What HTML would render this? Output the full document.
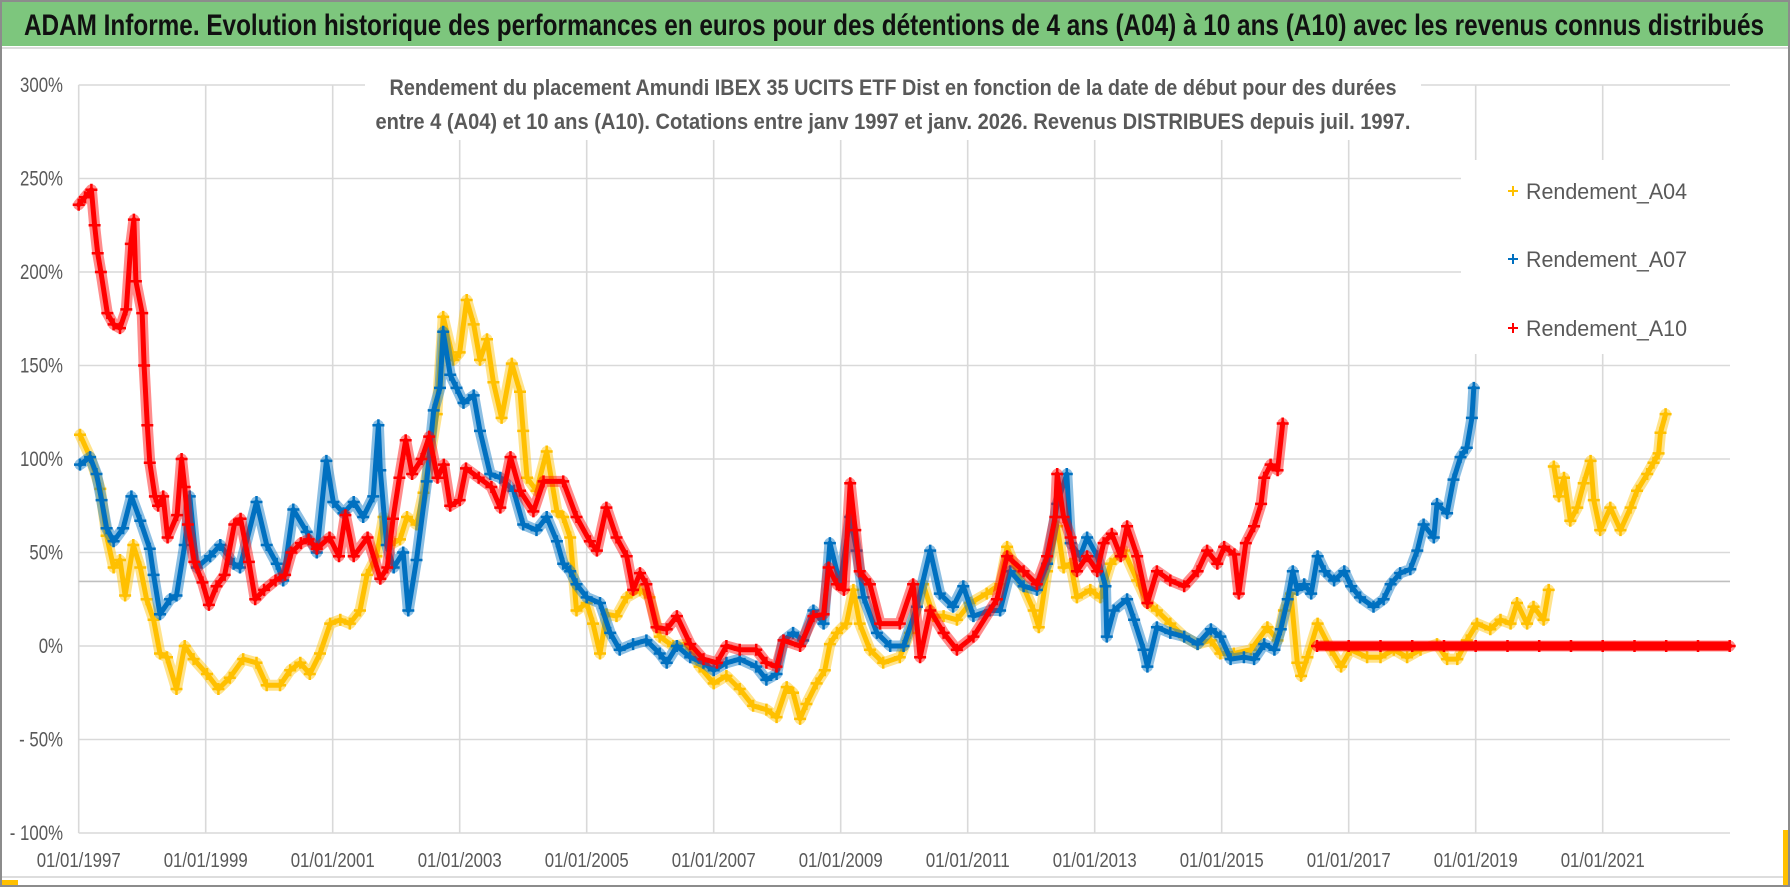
<!DOCTYPE html>
<html>
<head>
<meta charset="utf-8">
<style>
  html,body{margin:0;padding:0;background:#fff;}
  svg{display:block;}
  text{font-family:"Liberation Sans",sans-serif;}
</style>
</head>
<body>
<svg id="chart" width="1790" height="887" viewBox="0 0 1790 887" xmlns="http://www.w3.org/2000/svg">
  <rect x="0" y="0" width="1790" height="887" fill="#ffffff"/>
  <rect x="0" y="0" width="1790" height="46" fill="#7DC67D"/>
  <text x="24" y="35" font-size="30" font-weight="bold" fill="#111" textLength="1740" lengthAdjust="spacingAndGlyphs">ADAM Informe. Evolution historique des performances en euros pour des détentions de 4 ans (A04) à 10 ans (A10) avec les revenus connus distribués</text>
  <line x1="0" y1="48" x2="1790" y2="48" stroke="#dddddd" stroke-width="2"/>
  <g id="grid"></g>
  <g id="series"></g>
  <rect x="365" y="58" width="1056" height="82" fill="#ffffff"/>
  <text x="893" y="95" text-anchor="middle" font-size="22" font-weight="bold" fill="#595959" textLength="1007" lengthAdjust="spacingAndGlyphs">Rendement du placement Amundi IBEX 35 UCITS ETF Dist en fonction de la date de début pour des durées</text>
  <text x="893" y="129" text-anchor="middle" font-size="22" font-weight="bold" fill="#595959" textLength="1035" lengthAdjust="spacingAndGlyphs">entre 4 (A04) et 10 ans (A10).  Cotations entre janv 1997 et janv. 2026. Revenus DISTRIBUES depuis juil. 1997.</text>
  <g id="legend">
    <rect x="1461" y="160" width="320" height="194" fill="#ffffff"/>
  </g>
  <g id="axes"></g>
  <line x1="0" y1="877" x2="1790" y2="877" stroke="#dddddd" stroke-width="2"/>
  <rect x="1" y="1" width="1788" height="885" fill="none" stroke="#8c8c8c" stroke-width="2"/>
  <rect x="2" y="880" width="16" height="5" fill="#FFC000"/>
  <rect x="1783" y="830" width="5" height="55" fill="#FFC000"/>
</svg>
<script>
const yTicks = [300, 250, 200, 150, 100, 50, 0, -50, -100];
const yTickLabels = ["300%", "250%", "200%", "150%", "100%", "50%", "0%", "- 50%", "- 100%"];
const xTicks = [1997, 1999, 2001, 2003, 2005, 2007, 2009, 2011, 2013, 2015, 2017, 2019, 2021];
const xTickLabels = ["01/01/1997","01/01/1999","01/01/2001","01/01/2003","01/01/2005","01/01/2007","01/01/2009","01/01/2011","01/01/2013","01/01/2015","01/01/2017","01/01/2019","01/01/2021"];
const averageValue = 34.5;
const seriesNames = ["Rendement_A04", "Rendement_A07", "Rendement_A10"];

const a04Years = [1997.02,1997.18,1997.34,1997.44,1997.55,1997.65,1997.73,1997.86,1997.97,1998.07,1998.18,1998.28,1998.39,1998.54,1998.67,1998.81,1999.02,1999.2,1999.38,1999.59,1999.8,1999.96,2000.17,2000.33,2000.49,2000.64,2000.8,2000.96,2001.12,2001.27,2001.43,2001.54,2001.69,2001.8,2001.9,2002.06,2002.17,2002.32,2002.43,2002.53,2002.64,2002.74,2002.9,2003.0,2003.11,2003.22,2003.32,2003.43,2003.53,2003.66,2003.82,2003.95,2004.0,2004.06,2004.21,2004.37,2004.53,2004.63,2004.74,2004.84,2005.0,2005.1,2005.21,2005.31,2005.47,2005.63,2005.84,2005.99,2006.15,2006.36,2006.57,2006.78,2007.0,2007.2,2007.41,2007.62,2007.83,2007.99,2008.15,2008.25,2008.36,2008.46,2008.62,2008.75,2008.83,2008.94,2009.09,2009.2,2009.3,2009.46,2009.67,2009.93,2010.09,2010.3,2010.46,2010.62,2010.83,2011.04,2011.3,2011.51,2011.62,2011.77,2012.04,2012.12,2012.25,2012.41,2012.51,2012.62,2012.72,2012.93,2013.09,2013.25,2013.46,2013.67,2013.83,2013.98,2014.19,2014.41,2014.62,2014.83,2014.98,2015.19,2015.46,2015.72,2015.88,2015.98,2016.09,2016.19,2016.25,2016.35,2016.51,2016.72,2016.88,2017.03,2017.29,2017.5,2017.71,2017.92,2018.13,2018.39,2018.55,2018.71,2018.86,2019.02,2019.23,2019.39,2019.55,2019.65,2019.81,2019.91,2020.07,2020.15,2020.19,2020.23,2020.31,2020.39,2020.49,2020.6,2020.7,2020.81,2020.86,2020.96,2021.12,2021.28,2021.44,2021.54,2021.7,2021.8,2021.88,2021.91,2021.99];
const a04Values = [113,101,84,59,42,46,27,54,42,25,14,-4,-6,-23,0,-7,-15,-23,-17,-7,-9,-21,-21,-13,-9,-15,-4,12,14,12,19,38,48,69,54,57,69,65,82,101,124,176,153,157,185,172,153,164,141,122,151,136,115,90,83,104,72,69,58,19,23,12,-4,17,16,26,30,26,5,0,1,-11,-20,-16,-23,-32,-34,-38,-22,-25,-39,-31,-20,-13,1,7,12,30,12,-2,-9,-6,7,33,16,16,14,23,28,33,53,40,19,10,40,64,42,44,26,30,26,44,51,35,23,19,12,5,1,3,-4,-4,-2,10,3,19,28,-9,-16,-6,12,-2,-11,-2,-6,-6,-2,-6,-2,1,-7,-7,3,12,9,14,12,23,12,21,14,30,null,96,80,90,67,74,87,99,78,62,74,62,74,83,92,98,103,114,124];

const a07Years = [1997.02,1997.18,1997.28,1997.36,1997.44,1997.55,1997.7,1997.83,1997.97,1998.12,1998.18,1998.28,1998.44,1998.54,1998.67,1998.75,1998.86,1999.07,1999.23,1999.44,1999.54,1999.8,1999.96,2000.12,2000.22,2000.38,2000.59,2000.75,2000.9,2001.01,2001.17,2001.33,2001.48,2001.64,2001.72,2001.75,2001.85,2001.96,2002.11,2002.19,2002.32,2002.48,2002.59,2002.69,2002.74,2002.85,2002.95,2003.06,2003.22,2003.32,2003.48,2003.64,2003.85,2004.0,2004.21,2004.37,2004.53,2004.63,2004.74,2004.84,2005.0,2005.21,2005.37,2005.52,2005.73,2005.94,2006.15,2006.26,2006.42,2006.63,2006.84,2007.0,2007.2,2007.41,2007.67,2007.83,2007.99,2008.1,2008.25,2008.41,2008.57,2008.73,2008.83,2008.99,2009.15,2009.25,2009.36,2009.57,2009.78,2009.99,2010.2,2010.41,2010.56,2010.77,2010.93,2011.09,2011.35,2011.51,2011.67,2011.88,2012.09,2012.25,2012.41,2012.56,2012.62,2012.77,2012.88,2013.04,2013.17,2013.19,2013.3,2013.51,2013.62,2013.77,2013.83,2013.98,2014.19,2014.41,2014.62,2014.83,2014.98,2015.14,2015.35,2015.51,2015.67,2015.83,2015.93,2016.04,2016.12,2016.19,2016.3,2016.41,2016.51,2016.62,2016.77,2016.93,2017.04,2017.18,2017.39,2017.55,2017.66,2017.81,2017.97,2018.08,2018.18,2018.34,2018.39,2018.55,2018.65,2018.76,2018.86,2018.94,2018.97];
const a07Values = [97,101,92,78,63,56,63,80,67,52,38,17,25,27,54,80,42,48,54,44,42,77,54,44,35,73,61,50,99,77,71,77,69,80,118,94,54,42,50,19,46,88,126,138,168,145,138,130,134,115,92,90,83,65,62,69,56,44,40,33,26,23,7,-2,1,3,-4,-9,0,-6,-9,-13,-9,-7,-11,-18,-15,3,7,3,19,12,55,33,69,51,26,7,0,0,21,51,28,21,32,16,19,19,40,32,30,44,76,92,55,48,58,48,32,5,19,25,14,-2,-11,10,7,5,1,9,5,-7,-6,-7,1,-2,9,25,40,30,33,28,48,40,35,40,32,26,21,25,33,39,41,51,65,58,76,71,89,101,106,122,138];

const a10Years = [1997.0,1997.1,1997.2,1997.25,1997.3,1997.35,1997.45,1997.55,1997.65,1997.75,1997.82,1997.87,1997.9,1998.0,1998.03,1998.08,1998.12,1998.2,1998.25,1998.33,1998.4,1998.55,1998.62,1998.67,1998.72,1998.82,1998.95,1999.05,1999.17,1999.3,1999.45,1999.55,1999.68,1999.78,1999.92,2000.1,2000.25,2000.35,2000.5,2000.62,2000.75,2000.95,2001.1,2001.2,2001.33,2001.55,2001.75,2001.86,2001.95,2002.05,2002.15,2002.25,2002.4,2002.52,2002.65,2002.75,2002.85,2003.0,2003.1,2003.3,2003.5,2003.64,2003.8,2003.95,2004.16,2004.32,2004.63,2004.84,2005.05,2005.16,2005.31,2005.47,2005.63,2005.73,2005.84,2005.94,2006.1,2006.26,2006.42,2006.63,2006.84,2007.05,2007.2,2007.41,2007.67,2007.83,2007.99,2008.1,2008.36,2008.57,2008.73,2008.81,2008.94,2009.05,2009.15,2009.23,2009.3,2009.46,2009.62,2009.93,2010.14,2010.25,2010.41,2010.62,2010.83,2011.09,2011.46,2011.62,2011.88,2012.09,2012.25,2012.38,2012.41,2012.51,2012.62,2012.72,2012.88,2013.04,2013.14,2013.27,2013.41,2013.51,2013.67,2013.83,2013.98,2014.19,2014.41,2014.62,2014.77,2014.93,2015.04,2015.2,2015.27,2015.38,2015.51,2015.62,2015.67,2015.77,2015.88,2015.96,2015.98,2016.5,2017.0,2017.5,2018.0,2018.5,2019.0,2019.5,2020.0,2020.5,2021.0,2021.5,2022.0,2022.5,2023.0];
const a10Values = [236,240,244,225,210,200,178,172,170,180,215,228,195,178,150,118,98,80,75,80,58,70,100,85,65,45,34,22,32,38,65,68,45,25,30,35,38,50,55,57,52,58,48,70,48,58,36,42,68,90,110,92,100,112,90,97,75,78,95,90,85,74,101,83,72,88,88,69,56,51,74,58,48,30,39,33,10,9,16,1,-7,-9,0,-2,-2,-9,-11,3,0,16,17,42,33,30,87,62,40,33,12,12,33,-6,19,7,-2,5,25,48,40,33,48,69,92,69,58,40,48,40,55,60,48,64,48,23,40,35,32,40,51,44,53,49,28,55,64,76,90,97,94,119,null,0,0,0,0,0,0,0,0,0,0,0,0,0,0];

const NS = "http://www.w3.org/2000/svg";
const X0 = 78.7, X1 = 1730, YEAR0 = 1997, PX_PER_YEAR = 63.5;
const Y_ZERO = 646, PX_PER_PCT = 1.87;
function xScale(yr){ return X0 + (yr - YEAR0) * PX_PER_YEAR; }
function yScale(v){ return Y_ZERO - v * PX_PER_PCT; }
function mk(tag, attrs, parent){
  const el = document.createElementNS(NS, tag);
  for (const k in attrs) el.setAttribute(k, attrs[k]);
  parent.appendChild(el);
  return el;
}
const grid = document.getElementById('grid');
const axes = document.getElementById('axes');
const series = document.getElementById('series');
const legend = document.getElementById('legend');

yTicks.forEach((t, i) => {
  const gl = mk('line', {x1: X0, x2: X1, y1: yScale(t), y2: yScale(t), stroke: '#d9d9d9', 'stroke-width': 1.6}, grid);
  
  
  const lb = mk('text', {x: 63, y: yScale(t) + 7, 'text-anchor': 'end', 'font-size': 21, fill: '#595959'}, axes);
  lb.textContent = yTickLabels[i];
  
  
  const w = lb.getComputedTextLength();
  lb.setAttribute('textLength', (w * 0.8).toFixed(1));
  lb.setAttribute('lengthAdjust', 'spacingAndGlyphs');
});
xTicks.forEach((t, i) => {
  const gl = mk('line', {x1: xScale(t), x2: xScale(t), y1: yScale(300), y2: yScale(-100), stroke: '#d9d9d9', 'stroke-width': 1.6}, grid);
  
  
  const lb = mk('text', {x: xScale(t), y: 867, 'text-anchor': 'middle', 'font-size': 20, fill: '#595959', textLength: 84, lengthAdjust: 'spacingAndGlyphs'}, axes);
  lb.textContent = xTickLabels[i];
  
  
});
const avg = mk('line', {x1: X0, x2: X1, y1: yScale(averageValue), y2: yScale(averageValue), stroke: '#bfbfbf', 'stroke-width': 1.6}, grid);



function drawSeries(years, values, color, name){
  const g = mk('g', {}, series);
  
  
  let segs = [], cur = [];
  for (let i = 0; i < years.length; i++){
    if (values[i] === null){ if (cur.length) segs.push(cur); cur = []; continue; }
    cur.push([xScale(years[i]), yScale(values[i])]);
  }
  if (cur.length) segs.push(cur);
  segs.forEach(s => {
    const pts = s.map(p => p[0].toFixed(1) + ',' + p[1].toFixed(1)).join(' ');
    const halo = mk('polyline', {points: pts, fill: 'none', stroke: color, 'stroke-opacity': 0.45, 'stroke-width': 11, 'stroke-linejoin': 'round', 'stroke-linecap': 'round'}, g);
    
    
    const pl = mk('polyline', {points: pts, fill: 'none', stroke: color, 'stroke-width': 5, 'stroke-linejoin': 'round', 'stroke-linecap': 'round'}, g);
    
    
    const flat = s.length > 3 && s.every(p => Math.abs(p[1] - s[0][1]) < 0.5);
    if (flat){
      const fl = mk('polyline', {points: pts, fill: 'none', stroke: color, 'stroke-width': 9}, g);
      
      
    }
  });
  for (let i = 0; i < years.length; i++){
    if (values[i] === null) continue;
    const cx = xScale(years[i]), cy = yScale(values[i]);
    const m = mk('path', {d: `M${(cx-6).toFixed(1)},${cy.toFixed(1)}H${(cx+6).toFixed(1)}M${cx.toFixed(1)},${(cy-6).toFixed(1)}V${(cy+6).toFixed(1)}`, stroke: color, 'stroke-width': 2.5, fill: 'none'}, g);
    
    
  }
}
const colors = ['#FFC000', '#0070C0', '#FF0000'];
drawSeries(a04Years, a04Values, colors[0], 'series-a04');
drawSeries(a07Years, a07Values, colors[1], 'series-a07');
drawSeries(a10Years, a10Values, colors[2], 'series-a10');

const legendY = [191, 259, 328];
seriesNames.forEach((n, i) => {
  const cy = legendY[i], cx = 1513;
  const m = mk('path', {d: `M${cx-5},${cy}H${cx+5}M${cx},${cy-5}V${cy+5}`, stroke: colors[i], 'stroke-width': 2, fill: 'none'}, legend);
  
  
  const t = mk('text', {x: 1526, y: cy + 8, 'font-size': 22, fill: '#595959', textLength: 161, lengthAdjust: 'spacingAndGlyphs'}, legend);
  t.textContent = n;
  
  
});
</script>
</body>
</html>
